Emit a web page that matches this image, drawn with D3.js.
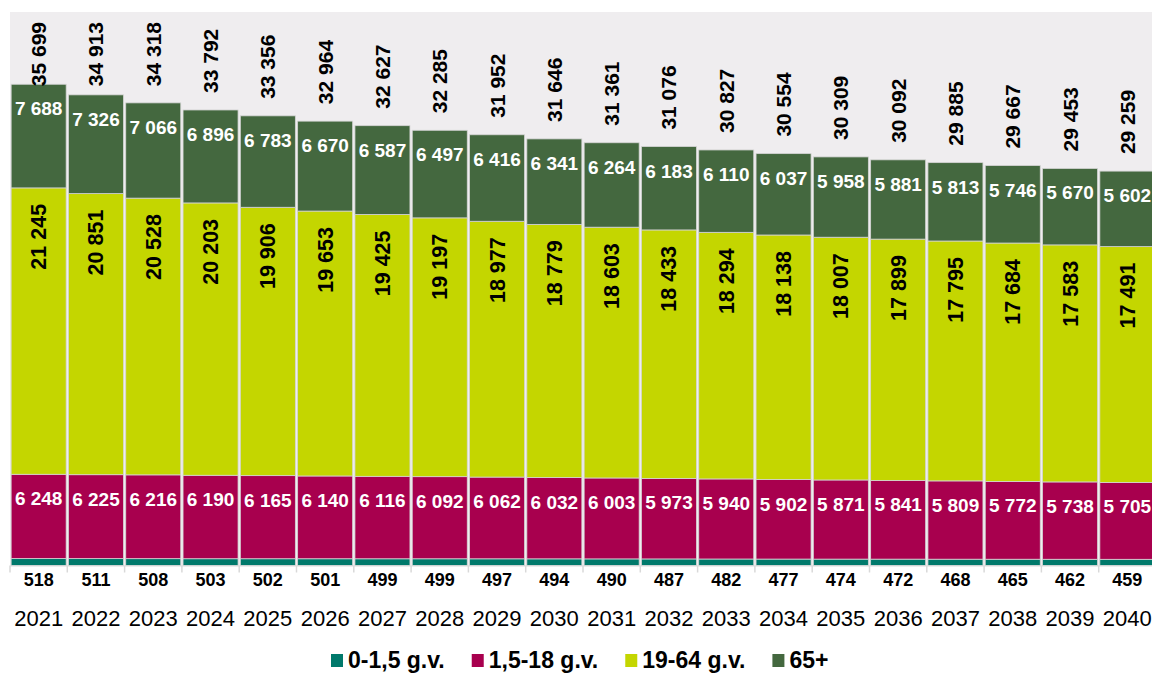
<!DOCTYPE html>
<html>
<head>
<meta charset="utf-8">
<script src="https://cdn.jsdelivr.net/npm/d3@7"></script>
<style>
  body { margin: 0; background: #fff; }
  svg { display: block; font-family: "Liberation Sans", Arial, sans-serif; }
</style>
</head>
<body>
<svg id="chart" width="1152" height="673"></svg>
<script>
var years = ["2021","2022","2023","2024","2025","2026","2027","2028","2029","2030",
             "2031","2032","2033","2034","2035","2036","2037","2038","2039","2040"];
var seriesNames = ["0-1,5 g.v.", "1,5-18 g.v.", "19-64 g.v.", "65+"];
var infants = [518,511,508,503,502,501,499,499,497,494,490,487,482,477,474,472,468,465,462,459];
var children = [6248,6225,6216,6190,6165,6140,6116,6092,6062,6032,6003,5973,5940,5902,5871,5841,5809,5772,5738,5705];
var adults = [21245,20851,20528,20203,19906,19653,19425,19197,18977,18779,18603,18433,18294,18138,18007,17899,17795,17684,17583,17491];
var seniors = [7688,7326,7066,6896,6783,6670,6587,6497,6416,6341,6264,6183,6110,6037,5958,5881,5813,5746,5670,5602];
var totals = [35699,34913,34318,33792,33356,32964,32627,32285,31952,31646,31361,31076,30827,30554,30309,30092,29885,29667,29453,29259];
var colors = ["#00796b", "#a8004e", "#c4d600", "#44683f"];

var fmt = d3.formatLocale({decimal: ",", thousands: " ", grouping: [3], currency: ["", ""]}).format(",d");

var rows = years.map(function (y, i) {
  return {year: y, s0: infants[i], s1: children[i], s2: adults[i], s3: seniors[i], total: totals[i]};
});
var keys = ["s0", "s1", "s2", "s3"];
var stacked = d3.stack().keys(keys)(rows);

var plot = {left: 10, right: 1156, top: 12, bottom: 565.5};

var svg = d3.select("#chart");

var x = d3.scaleBand().domain(years).range([plot.left, plot.right]).paddingInner(0.04).paddingOuter(0.02);
var y = d3.scaleLinear().domain([0, 41060]).range([plot.bottom, plot.top]);

// plot background
svg.append("rect")
  .attr("x", plot.left).attr("y", plot.top)
  .attr("width", plot.right - plot.left).attr("height", plot.bottom - plot.top)
  .attr("fill", "#efedef");

// bars
var layers = svg.selectAll("g.layer").data(stacked).enter().append("g")
  .attr("class", "layer")
  .attr("fill", function (d, i) { return colors[i]; });

layers.selectAll("rect").data(function (d) { return d; }).enter().append("rect")
  .attr("x", function (d) { return x(d.data.year); })
  .attr("width", x.bandwidth())
  .attr("y", function (d) { return y(d[1]); })
  .attr("height", function (d) { return y(d[0]) - y(d[1]); })
  .attr("stroke", "#d4d4d4")
  .attr("stroke-width", 0.8);

// category tick marks
var bounds = d3.range(years.length + 1).map(function (i) { return plot.left + i * (plot.right - plot.left) / years.length; });
svg.append("line")
  .attr("x1", plot.left).attr("x2", plot.right)
  .attr("y1", plot.bottom + 0.5).attr("y2", plot.bottom + 0.5)
  .attr("stroke", "#d9d9d9");
svg.selectAll("line.tick").data(bounds).enter().append("line")
  .attr("class", "tick")
  .attr("x1", function (d) { return d; }).attr("x2", function (d) { return d; })
  .attr("y1", plot.bottom).attr("y2", plot.bottom + 7)
  .attr("stroke", "#d9d9d9").attr("stroke-width", 1.5);

function cx(d) { return x(d.year) + x.bandwidth() / 2; }

// 0-1,5 labels below the axis
svg.selectAll("text.lab0").data(rows).enter().append("text")
  .attr("x", cx).attr("y", 586)
  .attr("text-anchor", "middle")
  .attr("font-size", 18).attr("font-weight", "bold").attr("fill", "#000")
  .text(function (d) { return fmt(d.s0); });

// 1,5-18 labels (inside end, horizontal, white)
svg.selectAll("text.lab1").data(stacked[1]).enter().append("text")
  .attr("x", function (d) { return cx(d.data); })
  .attr("y", function (d) { return y(d[1]) + 31; })
  .attr("text-anchor", "middle")
  .attr("font-size", 19).attr("font-weight", "bold").attr("fill", "#fff")
  .text(function (d) { return fmt(d.data.s1); });

// 19-64 labels (inside end, rotated)
svg.selectAll("text.lab2").data(stacked[2]).enter().append("text")
  .attr("transform", function (d) {
    return "translate(" + (cx(d.data) + 7.5) + "," + (y(d[1]) + 16) + ") rotate(-90)";
  })
  .attr("text-anchor", "end")
  .attr("font-size", 21.5).attr("font-weight", "bold").attr("fill", "#000")
  .text(function (d) { return fmt(d.data.s2); });

// 65+ labels (inside end, horizontal, white)
svg.selectAll("text.lab3").data(stacked[3]).enter().append("text")
  .attr("x", function (d) { return cx(d.data); })
  .attr("y", function (d) { return y(d[1]) + 31; })
  .attr("text-anchor", "middle")
  .attr("font-size", 19).attr("font-weight", "bold").attr("fill", "#fff")
  .text(function (d) { return fmt(d.data.s3); });

// totals above bars, rotated, kept inside the plot area
svg.selectAll("text.total").data(rows).enter().append("text")
  .attr("class", "total")
  .attr("text-anchor", "start")
  .attr("font-size", 21).attr("font-weight", "bold").attr("fill", "#000")
  .text(function (d) { return fmt(d.total); })
  .each(function (d) {
    var len = this.getComputedTextLength();
    var bottom = Math.max(y(d.total) - 17, 22 + len);
    d3.select(this).attr("transform", "translate(" + (cx(d) + 7.5) + "," + bottom + ") rotate(-90)");
  });

// year labels
svg.selectAll("text.year").data(years).enter().append("text")
  .attr("x", function (d) { return x(d) + x.bandwidth() / 2; })
  .attr("y", 626)
  .attr("text-anchor", "middle")
  .attr("font-size", 22).attr("fill", "#000")
  .text(function (d) { return d; });

// legend
var legend = svg.append("g");
var lx = 331;
seriesNames.forEach(function (name, i) {
  legend.append("rect")
    .attr("x", lx).attr("y", 654).attr("width", 12).attr("height", 13)
    .attr("fill", colors[i]);
  var t = legend.append("text")
    .attr("x", lx + 17).attr("y", 667.5)
    .attr("font-size", 23).attr("font-weight", "bold").attr("fill", "#000")
    .text(name);
  lx += 17 + t.node().getComputedTextLength() + 27;
});
</script>
</body>
</html>
